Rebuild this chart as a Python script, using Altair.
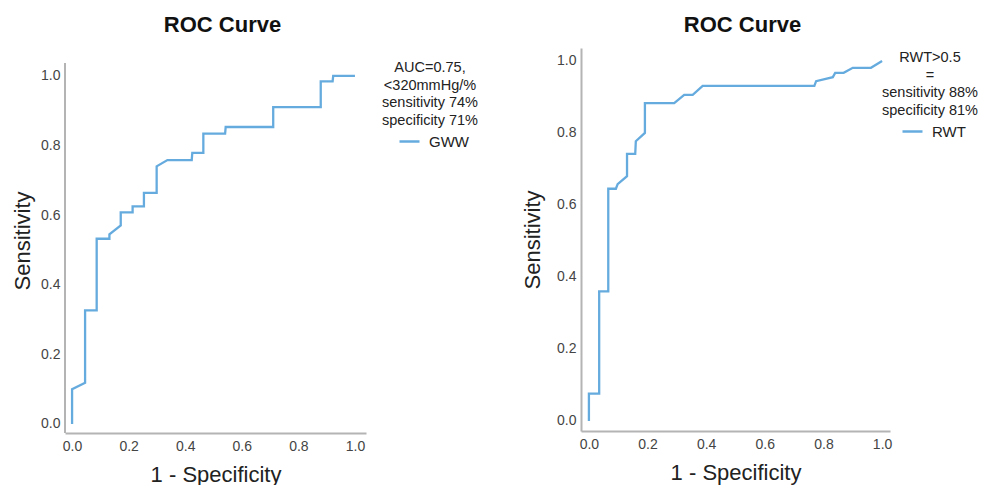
import altair as alt
import pandas as pd

# ---- data ----
gww_fpr = [0.000, 0.000, 0.046, 0.046, 0.087, 0.087, 0.132, 0.132, 0.172, 0.172,
           0.214, 0.214, 0.254, 0.254, 0.299, 0.299, 0.337, 0.423, 0.425, 0.464,
           0.464, 0.541, 0.543, 0.711, 0.711, 0.879, 0.879, 0.921, 0.923, 1.000]
gww_tpr = [0.000, 0.100, 0.118, 0.326, 0.326, 0.532, 0.532, 0.545, 0.570, 0.608,
           0.608, 0.625, 0.625, 0.664, 0.664, 0.740, 0.758, 0.758, 0.779, 0.779,
           0.834, 0.834, 0.853, 0.853, 0.910, 0.910, 0.984, 0.984, 1.000, 1.000]

rwt_fpr = [0.000, 0.000, 0.035, 0.035, 0.066, 0.066, 0.092, 0.098, 0.130, 0.130,
           0.158, 0.160, 0.191, 0.191, 0.291, 0.325, 0.354, 0.388, 0.769, 0.775,
           0.832, 0.840, 0.869, 0.900, 0.962, 1.000]
rwt_tpr = [0.000, 0.076, 0.076, 0.360, 0.360, 0.645, 0.645, 0.658, 0.680, 0.742,
           0.742, 0.777, 0.800, 0.883, 0.883, 0.906, 0.906, 0.931, 0.931, 0.944,
           0.955, 0.967, 0.967, 0.981, 0.981, 1.000]

tick_values = [0.0, 0.2, 0.4, 0.6, 0.8, 1.0]
gww_legend_title = ["AUC=0.75,", "<320mmHg/%", "sensitivity 74%", "specificity 71%"]
rwt_legend_title = ["RWT>0.5", "=", "sensitivity 88%", "specificity 81%"]
chart_title = "ROC Curve"
x_title = "1 - Specificity"
y_title = "Sensitivity"

LINE_COLOR = "#66abde"
AXIS_COLOR = "#b4b4b4"
FONT = "Liberation Sans"


def panel(fpr, tpr, name, legend_title, xdom, ydom, w, h, lx, ly,
          ytitle_pad, axis_span=None):
    df = pd.DataFrame({"fpr": fpr, "tpr": tpr,
                       "idx": list(range(len(fpr))), "series": name})
    xs = alt.Scale(domain=xdom, nice=False, zero=False)
    ys = alt.Scale(domain=ydom, nice=False, zero=False)
    line = alt.Chart(df).mark_line(strokeWidth=2.3).encode(
        x=alt.X("fpr:Q", scale=xs,
                axis=alt.Axis(values=tick_values, format=".1f", title=x_title,
                              labelPadding=6, titlePadding=11)),
        y=alt.Y("tpr:Q", scale=ys,
                axis=alt.Axis(values=tick_values, format=".1f", title=y_title,
                              labelPadding=5, titlePadding=ytitle_pad,
                              domain=axis_span is None)),
        color=alt.Color("series:N",
                        scale=alt.Scale(domain=[name], range=[LINE_COLOR]),
                        legend=alt.Legend(title=legend_title, orient="none",
                                          legendX=lx, legendY=ly,
                                          titleAlign="center", titleAnchor="middle",
                                          titleFontSize=14.5, titleFontWeight="normal",
                                          titleLineHeight=17.5, titleColor="#222",
                                          titlePadding=2, titleFont=FONT,
                                          labelFontSize=15, labelColor="#222",
                                          labelFont=FONT, labelOffset=8,
                                          symbolType="stroke", symbolSize=400,
                                          symbolStrokeWidth=2.5, symbolOffset=6)),
        order=alt.Order("idx:Q"),
    )
    layers = [line]
    if axis_span is not None:
        # left axis line that stops below the top of the panel
        span_df = pd.DataFrame({"y0": [axis_span[0]], "y1": [axis_span[1]]})
        rule = alt.Chart(span_df).mark_rule(color=AXIS_COLOR, strokeWidth=2).encode(
            x=alt.value(0),
            y=alt.Y("y0:Q", scale=ys),
            y2="y1:Q",
        )
        layers = [rule, line]
    return alt.layer(*layers).properties(
        width=w, height=h,
        title=alt.TitleParams(chart_title, fontSize=22, fontWeight="bold",
                              font=FONT, color="#111", frame="group",
                              anchor="middle", dx=7, offset=11),
    )


left = panel(gww_fpr, gww_tpr, "GWW", gww_legend_title,
             [-0.025, 1.039], [-0.026, 1.080], 301, 385, 317, 13, 6,
             axis_span=[-0.026, 1.037])
right = panel(rwt_fpr, rwt_tpr, "RWT", rwt_legend_title,
              [-0.027, 1.027], [-0.028, 1.036], 309, 383, 301, 3, 12)

chart = alt.hconcat(left, right, spacing=43).resolve_scale(
    color="independent", x="independent", y="independent"
).configure_view(stroke=None).configure_axis(
    grid=False, ticks=False, domainColor=AXIS_COLOR, domainWidth=2,
    labelColor="#444", labelFontSize=14, labelFont=FONT, labelFlush=False,
    titleFont=FONT, titleFontSize=22, titleFontWeight="normal", titleColor="#222",
).properties(background="white", padding={"left": 3, "top": 6, "right": 0, "bottom": 0})

chart.save("out.html", embed_options={"renderer": "svg", "actions": False})
